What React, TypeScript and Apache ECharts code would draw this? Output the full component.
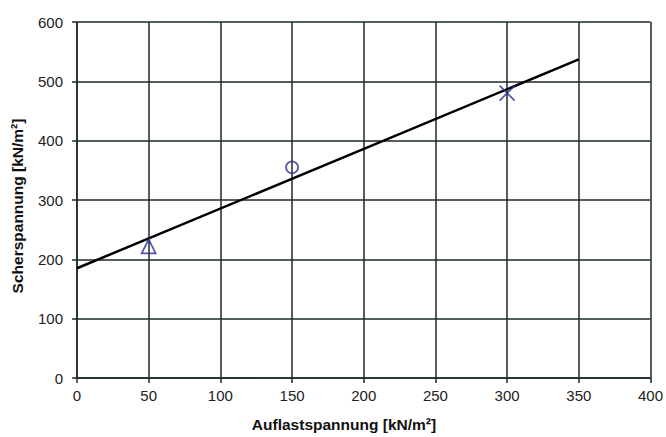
import React, { useEffect, useRef } from "react";
import * as echarts from "echarts";

const xTicks = [0, 50, 100, 150, 200, 250, 300, 350, 400];
const yTicks = [0, 100, 200, 300, 400, 500, 600];
const fitLine: [number, number][] = [[0, 185], [350, 537]];
const triangleData: [number, number][] = [[50, 222]];
const circleData: [number, number][] = [[150, 355]];
const crossData: [number, number][] = [[300, 480]];
const xTitle = "Auflastspannung [kN/m²]";
const yTitle = "Scherspannung [kN/m²]";

const MARK = "#2e2e90";
const GRID = "#1c2a2a";
const FONT = "'Liberation Sans', Arial, sans-serif";

export default function App() {
  const ref = useRef<HTMLDivElement>(null);
  useEffect(() => {
    if (!ref.current) return;
    const chart = echarts.init(ref.current, null, { renderer: "svg" });
    chart.setOption({
      animation: false,
      backgroundColor: "#ffffff",
      grid: { left: 77, right: 15, top: 22, bottom: 59 },
      xAxis: {
        type: "value",
        min: xTicks[0],
        max: xTicks[xTicks.length - 1],
        interval: 50,
        axisLine: { show: true, lineStyle: { color: GRID, width: 1.5 } },
        axisTick: { show: true, length: 5, lineStyle: { color: GRID, width: 1.5 } },
        axisLabel: { color: "#222", fontSize: 15, fontFamily: FONT, margin: 10 },
        splitLine: { show: true, lineStyle: { color: GRID, width: 1.5 } },
      },
      yAxis: {
        type: "value",
        min: yTicks[0],
        max: yTicks[yTicks.length - 1],
        interval: 100,
        axisLine: { show: true, lineStyle: { color: GRID, width: 1.5 } },
        axisTick: { show: true, length: 5, lineStyle: { color: GRID, width: 1.5 } },
        axisLabel: { color: "#222", fontSize: 15, fontFamily: FONT, margin: 14 },
        splitLine: { show: true, lineStyle: { color: GRID, width: 1.5 } },
      },
      graphic: [
        {
          type: "text",
          x: 344,
          y: 424,
          style: {
            text: xTitle,
            fontSize: 15.5,
            fontWeight: "bold",
            fontFamily: FONT,
            fill: "#111",
            align: "center",
            verticalAlign: "middle",
          },
        },
        {
          type: "text",
          x: 17,
          y: 206,
          rotation: Math.PI / 2,
          style: {
            text: yTitle,
            fontSize: 15.5,
            fontWeight: "bold",
            fontFamily: FONT,
            fill: "#111",
            align: "center",
            verticalAlign: "middle",
          },
        },
      ],
      series: [
        {
          type: "line",
          data: fitLine,
          showSymbol: false,
          symbol: "none",
          lineStyle: { color: "#000", width: 2.5 },
          z: 3,
        },
        {
          type: "scatter",
          data: triangleData,
          symbol: "triangle",
          symbolSize: 14,
          itemStyle: { color: "transparent", borderColor: MARK, borderWidth: 1.8 },
          z: 4,
        },
        {
          type: "scatter",
          data: circleData,
          symbol: "circle",
          symbolSize: 12,
          itemStyle: { color: "transparent", borderColor: MARK, borderWidth: 1.8 },
          z: 4,
        },
        {
          type: "scatter",
          data: crossData,
          symbol: "path://M0,0L10,10M10,0L0,10",
          symbolSize: 15,
          itemStyle: { color: "transparent", borderColor: MARK, borderWidth: 1.8 },
          z: 4,
        },
      ],
    });
    return () => chart.dispose();
  }, []);
  return <div ref={ref} style={{ width: 666, height: 437, position: "absolute", left: 0, top: 0 }} />;
}
